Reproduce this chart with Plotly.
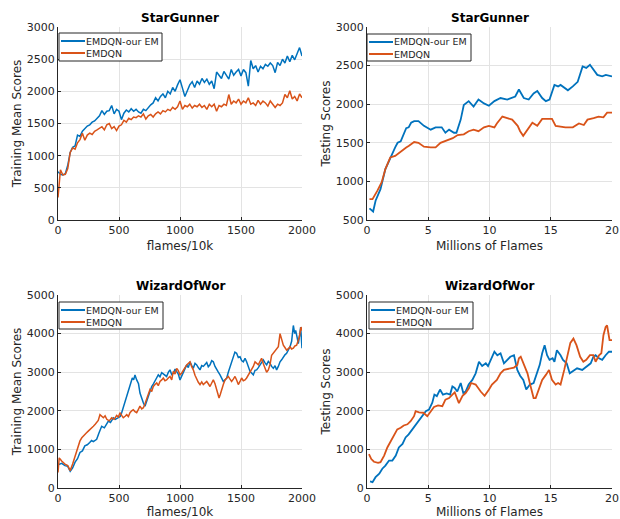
import plotly.graph_objects as go

# ---------------- data ----------------
SERIES = ["EMDQN-our EM", "EMDQN"]

# StarGunner training (flames/10k)
sg_train_x = list(range(0, 2001, 20))
sg_train_ours = [750, 710, 700, 720, 850, 1050, 1130, 1150, 1320, 1300, 1380, 1420, 1460, 1480, 1520, 1540,
                 1580, 1620, 1700, 1640, 1690, 1700, 1780, 1650, 1720, 1690, 1560, 1660, 1710, 1680, 1730,
                 1690, 1720, 1680, 1660, 1720, 1700, 1750, 1790, 1820, 1900, 1850, 1920, 1960, 1900, 2000,
                 1960, 2060, 2000, 2100, 2180, 2050, 1920, 2010, 2100, 2150, 2060, 2160, 2110, 2200, 2140,
                 2190, 2110, 2160, 2040, 2300, 2240, 2200, 2310, 2250, 2190, 2340, 2250, 2300, 2340, 2240,
                 2340, 2290, 2080, 2480, 2350, 2400, 2300, 2390, 2350, 2420, 2390, 2440, 2400, 2290, 2450,
                 2400, 2500, 2440, 2550, 2460, 2560, 2490, 2600, 2680, 2550]
sg_train_emdqn = [350, 780, 700, 710, 800, 1050, 1120, 1100, 1200, 1250, 1350, 1240, 1320, 1350, 1330, 1380,
                  1400, 1420, 1450, 1400, 1480, 1500, 1420, 1450, 1390, 1460, 1480, 1550, 1520, 1580, 1560,
                  1600, 1590, 1620, 1600, 1650, 1570, 1620, 1640, 1600, 1650, 1680, 1650, 1700, 1680, 1720,
                  1700, 1750, 1720, 1760, 1850, 1720, 1780, 1760, 1800, 1740, 1780, 1760, 1800, 1750, 1780,
                  1720, 1800, 1760, 1800, 1690, 1780, 1760, 1800, 1780, 1950, 1800, 1850, 1820, 1880, 1800,
                  1850, 1820, 1900, 1800, 1820, 1780, 1860, 1800, 1850, 1820, 1770, 1850, 1800, 1750, 1800,
                  1780, 1820, 1950, 1900, 2010, 1880, 1920, 1850, 1960, 1900]

# StarGunner testing (millions of flames)
sg_test_ours_x = [0.2, 0.5, 0.7, 1.1, 1.5, 1.9, 2.3, 2.5, 2.75, 3.2, 3.4, 3.6, 3.85, 4.2, 4.65, 5.2, 5.6, 6.1,
                  6.4, 6.7, 7.1, 7.3, 7.65, 7.9, 8.3, 8.7, 9.1, 9.55, 9.95, 10.4, 10.9, 11.45, 11.85, 12.1,
                  12.4, 12.8, 13.2, 13.6, 13.9, 14.3, 14.6, 14.9, 15.3, 15.6, 15.8, 16.1, 16.4, 16.8, 17.2,
                  17.6, 17.9, 18.2, 18.5, 18.8, 19.2, 19.5, 20.0]
sg_test_ours = [650, 610, 750, 900, 1160, 1310, 1440, 1500, 1520, 1690, 1700, 1760, 1780, 1780, 1720, 1670,
                1700, 1700, 1630, 1670, 1630, 1630, 1800, 1990, 2040, 1970, 2060, 2010, 1980, 2040, 2080,
                2060, 2090, 2100, 2190, 2080, 2060, 2140, 2170, 2080, 2040, 2060, 2250, 2230, 2250, 2210,
                2180, 2230, 2290, 2490, 2470, 2510, 2440, 2380, 2360, 2380, 2360]
sg_test_emdqn_x = [0.2, 0.45, 0.85, 1.2, 1.5, 1.9, 2.3, 2.75, 3.2, 3.4, 3.85, 4.2, 4.65, 5.2, 5.6, 6.0, 6.6,
                   7.0, 7.4, 7.9, 8.3, 8.7, 9.1, 9.55, 9.95, 10.4, 10.6, 11.05, 11.45, 11.85, 12.3, 12.5,
                   12.75, 13.1, 13.5, 13.9, 14.3, 14.7, 15.1, 15.4, 15.8, 16.2, 16.8, 17.3, 17.7, 18.0, 18.5,
                   18.9, 19.3, 19.6, 20.0]
sg_test_emdqn = [770, 770, 880, 990, 1160, 1310, 1330, 1390, 1440, 1460, 1510, 1500, 1450, 1440, 1440, 1500,
                 1540, 1560, 1600, 1610, 1650, 1670, 1650, 1700, 1720, 1700, 1750, 1840, 1820, 1800, 1720,
                 1650, 1590, 1670, 1760, 1720, 1810, 1810, 1810, 1720, 1710, 1700, 1700, 1750, 1730, 1800,
                 1820, 1840, 1830, 1890, 1890]

# WizardOfWor training
wow_train_ours_x = [0, 30, 57, 80, 100, 120, 140, 160, 180, 200, 220, 240, 260, 275, 290, 305, 317, 335, 358,
                    380, 400, 413, 430, 454, 470, 495, 510, 522, 537, 550, 565, 577, 595, 609, 620, 631, 645,
                    660, 672, 686, 700, 713, 727, 740, 755, 768, 782, 795, 808, 822, 836, 850, 870, 890, 905,
                    918, 932, 945, 960, 973, 986, 1000, 1014, 1027, 1041, 1055, 1068, 1082, 1095, 1109, 1123,
                    1137, 1150, 1164, 1178, 1191, 1205, 1219, 1232, 1246, 1260, 1273, 1287, 1300, 1314, 1328,
                    1341, 1355, 1369, 1383, 1396, 1410, 1424, 1437, 1450, 1464, 1478, 1492, 1505, 1519, 1533,
                    1546, 1560, 1574, 1587, 1601, 1615, 1628, 1642, 1656, 1670, 1683, 1697, 1710, 1724, 1738,
                    1751, 1765, 1779, 1792, 1806, 1820, 1833, 1847, 1860, 1874, 1888, 1902, 1915, 1929, 1940,
                    1948, 1960, 1970, 1980, 1989, 2000]
wow_train_ours = [600, 640, 580, 560, 430, 520, 670, 760, 920, 960, 1090, 1120, 1180, 1230, 1200, 1230, 1260,
                  1420, 1600, 1560, 1680, 1735, 1700, 1820, 1780, 1820, 1850, 1950, 2100, 2290, 2380, 2550,
                  2700, 2850, 2800, 2930, 2800, 2700, 2460, 2300, 2200, 2120, 2250, 2380, 2500, 2630, 2700,
                  2800, 2850, 2930, 2880, 2990, 2950, 2890, 3000, 3060, 2940, 2970, 3080, 3020, 2950, 2800,
                  2900, 2970, 3080, 3190, 3120, 3270, 3180, 3100, 3230, 3190, 3120, 3060, 3170, 3150, 3200,
                  3250, 3140, 3190, 3300, 3270, 3150, 3060, 3000, 2930, 2850, 2760, 2800, 2850, 3000, 3150,
                  3300, 3400, 3520, 3490, 3380, 3400, 3300, 3270, 3360, 3270, 3150, 3020, 2980, 2930, 3050,
                  3060, 3120, 3190, 3250, 3320, 3240, 3190, 3280, 3230, 3150, 3100, 3170, 3060, 3150, 3270,
                  3320, 3400, 3450, 3490, 3560, 3660, 3800, 4210, 4000, 4080, 3900, 3740, 3950, 4170, 3620]
wow_train_emdqn_x = [0, 10, 30, 57, 80, 100, 120, 140, 160, 180, 195, 208, 230, 250, 270, 290, 305, 317, 330,
                     344, 358, 372, 386, 400, 420, 440, 460, 481, 495, 508, 522, 535, 550, 563, 577, 590, 604,
                     617, 631, 645, 658, 672, 686, 700, 713, 727, 740, 754, 768, 781, 795, 809, 822, 836, 850,
                     863, 877, 890, 904, 918, 932, 945, 959, 973, 986, 1000, 1014, 1027, 1041, 1055, 1068,
                     1082, 1095, 1109, 1123, 1137, 1150, 1164, 1178, 1191, 1205, 1219, 1232, 1246, 1260, 1273,
                     1287, 1300, 1310, 1320, 1330, 1341, 1355, 1369, 1383, 1396, 1410, 1423, 1437, 1451, 1464,
                     1478, 1492, 1505, 1519, 1533, 1546, 1560, 1574, 1587, 1601, 1615, 1628, 1642, 1656, 1669,
                     1683, 1697, 1710, 1724, 1738, 1751, 1765, 1779, 1792, 1806, 1820, 1833, 1847, 1860, 1874,
                     1888, 1902, 1915, 1929, 1942, 1956, 1967, 1978, 1992, 2000]
wow_train_emdqn = [400, 780, 700, 620, 580, 450, 620, 840, 1000, 1220, 1300, 1350, 1420, 1480, 1530, 1600,
                   1650, 1690, 1750, 1900, 1860, 1820, 1870, 1780, 1740, 1820, 1780, 1880, 1840, 1950, 1880,
                   1820, 1860, 1900, 1850, 1950, 2000, 2030, 1980, 1950, 2030, 2120, 2050, 2080, 2180, 2290,
                   2400, 2550, 2500, 2630, 2680, 2720, 2650, 2760, 2800, 2850, 2780, 2800, 2850, 2890, 2800,
                   3020, 2950, 3100, 3040, 2930, 2980, 3060, 3120, 3190, 3230, 3270, 3150, 3060, 2920, 2800,
                   2740, 2680, 2750, 2680, 2720, 2760, 2700, 2630, 2720, 2800, 2700, 2550, 2400, 2330, 2420,
                   2550, 2680, 2800, 2850, 2890, 2820, 2760, 2820, 2890, 2800, 2680, 2760, 2850, 2780, 2800,
                   2850, 2930, 2980, 3060, 3150, 3270, 3230, 3190, 3280, 3360, 3220, 3100, 3000, 3060, 3200,
                   3440, 3500, 3570, 3620, 3660, 4000, 3820, 3700, 3640, 3570, 3610, 3660, 3600, 3620, 3680,
                   3700, 3800, 3910, 4170, 4080]

# WizardOfWor testing
wow_test_ours_x = [0.25, 0.45, 0.7, 1.0, 1.25, 1.5, 1.8, 2.07, 2.35, 2.6, 2.9, 3.15, 3.4, 3.7, 3.97, 4.25,
                   4.5, 4.8, 5.06, 5.33, 5.5, 5.7, 5.96, 6.2, 6.5, 6.78, 6.97, 7.16, 7.37, 7.65, 7.86, 8.05,
                   8.3, 8.6, 8.87, 9.14, 9.4, 9.7, 9.88, 10.15, 10.4, 10.64, 10.9, 11.18, 11.45, 11.7, 12.0,
                   12.27, 12.5, 12.76, 13.0, 13.3, 13.6, 13.85, 14.1, 14.3, 14.5, 14.7, 14.9, 15.15, 15.3,
                   15.5, 15.8, 16.0, 16.3, 16.55, 16.8, 17.15, 17.57, 17.97, 18.26, 18.48, 18.66, 18.94,
                   19.2, 19.48, 19.75, 20.0]
wow_test_ours = [170, 150, 280, 370, 500, 580, 710, 710, 840, 1050, 1140, 1310, 1390, 1520, 1650, 1780, 1860,
                 1990, 2030, 2210, 2420, 2380, 2550, 2420, 2450, 2420, 2630, 2590, 2500, 2720, 2460, 2500,
                 2680, 2800, 2970, 3270, 3160, 3230, 3160, 3360, 3530, 3440, 3490, 3230, 3320, 3400, 3440,
                 3060, 2910, 2800, 2550, 2680, 2720, 2970, 3190, 3490, 3700, 3440, 3320, 3360, 3270, 3570,
                 3440, 3320, 3230, 2970, 3020, 3100, 3060, 3150, 3230, 3400, 3440, 3360, 3320, 3440, 3530,
                 3530]
wow_test_emdqn_x = [0.16, 0.35, 0.57, 0.9, 1.1, 1.4, 1.66, 1.93, 2.2, 2.47, 2.75, 3.0, 3.3, 3.56, 3.84, 3.97,
                    4.25, 4.6, 4.92, 5.2, 5.47, 5.8, 6.15, 6.4, 6.7, 6.97, 7.16, 7.5, 7.8, 8.05, 8.33, 8.5,
                    8.87, 9.28, 9.6, 9.96, 10.2, 10.6, 10.9, 11.18, 11.6, 12.0, 12.27, 12.4, 12.55, 12.8, 13.1,
                    13.36, 13.6, 13.77, 14.04, 14.3, 14.6, 14.86, 15.1, 15.4, 15.6, 15.8, 16.1, 16.35, 16.6,
                    16.85, 17.1, 17.4, 17.66, 17.9, 18.2, 18.48, 18.66, 18.94, 19.13, 19.3, 19.48, 19.6, 19.8,
                    20.0]
wow_test_emdqn = [880, 750, 680, 650, 670, 840, 1050, 1220, 1390, 1520, 1560, 1620, 1650, 1730, 1860, 1990,
                  1960, 1950, 1860, 1990, 2100, 2140, 2120, 2290, 2330, 2420, 2480, 2200, 2390, 2460, 2590,
                  2720, 2680, 2500, 2390, 2550, 2680, 2800, 2970, 3060, 3100, 3120, 3190, 3360, 3400, 3190,
                  2970, 2630, 2330, 2330, 2590, 2800, 2930, 3060, 2800, 2680, 2720, 2680, 3060, 3400, 3760,
                  3870, 3700, 3400, 3270, 3320, 3440, 3440, 3270, 3440, 3490, 3960, 4170, 4210, 3830, 3830]

titles = ["StarGunner", "StarGunner", "WizardOfWor", "WizardOfWor"]
xlabels = ["flames/10k", "Millions of Flames", "flames/10k", "Millions of Flames"]
ylabels = ["Training Mean Scores", "Testing Scores", "Training Mean Scores", "Testing Scores"]

# ---------------- figure ----------------
W, H = 620, 519
BLUE = "#0072BD"
ORANGE = "#D95319"
COLORS = [BLUE, ORANGE]
FONT = "DejaVu Sans"
TXT = "#262626"

# axis pixel boxes (left, right, top, bottom)
boxes = [(58, 302, 27, 220), (367, 612, 27, 220), (58, 302, 295, 488), (367, 612, 295, 488)]
# legend boxes (left, right, top, bottom)
legboxes = [(59, 162, 33, 61), (367, 471, 34, 61), (59, 163, 302, 329), (369, 473, 302, 329)]

panels = [
    (sg_train_x, sg_train_ours, sg_train_x, sg_train_emdqn, [0, 2000], [0, 3000], 500, 500, 1.5),
    (sg_test_ours_x, sg_test_ours, sg_test_emdqn_x, sg_test_emdqn, [0, 20], [500, 3000], 5, 500, 1.8),
    (wow_train_ours_x, wow_train_ours, wow_train_emdqn_x, wow_train_emdqn, [0, 2000], [0, 5000], 500, 1000, 1.5),
    (wow_test_ours_x, wow_test_ours, wow_test_emdqn_x, wow_test_emdqn, [0, 20], [0, 5000], 5, 1000, 1.8),
]

fig = go.Figure()
layout = dict(width=W, height=H, margin=dict(l=0, r=0, t=0, b=0, autoexpand=False),
              paper_bgcolor="white", plot_bgcolor="white", showlegend=False,
              font=dict(family=FONT, size=11, color=TXT), annotations=[], shapes=[])

def px(xp):
    return xp / W

def py(yp):
    return 1 - yp / H

for i, (bx, (x1, y1, x2, y2, xr, yr, dx, dy, lw)) in enumerate(zip(boxes, panels)):
    n = "" if i == 0 else str(i + 1)
    fig.add_trace(go.Scatter(x=x1, y=y1, mode="lines", name=SERIES[0], line=dict(color=BLUE, width=lw),
                             xaxis="x" + n, yaxis="y" + n))
    fig.add_trace(go.Scatter(x=x2, y=y2, mode="lines", name=SERIES[1], line=dict(color=ORANGE, width=lw),
                             xaxis="x" + n, yaxis="y" + n))
    l, r, t, b = bx
    common = dict(showgrid=True, gridcolor="#e3e3e3", gridwidth=1, zeroline=False, automargin=False,
                  showline=True, linecolor="#262626", linewidth=1, ticks="inside", ticklen=3,
                  tickcolor="#262626", tickfont=dict(size=11, color=TXT), mirror=False)
    layout["xaxis" + n] = dict(common, domain=[px(l), px(r)], range=xr, dtick=dx, tick0=0,
                               anchor="y" + n,
                               title=dict(text=xlabels[i], font=dict(size=12, color=TXT), standoff=5))
    layout["yaxis" + n] = dict(common, domain=[py(b), py(t)], range=yr, dtick=dy, tick0=0,
                               anchor="x" + n,
                               title=dict(text=ylabels[i], font=dict(size=12, color=TXT), standoff=2))
    layout["annotations"].append(dict(text="<b>" + titles[i] + "</b>", x=px((l + r) / 2),
                                      y=py(t - 9), xref="paper", yref="paper",
                                      showarrow=False, font=dict(size=12, color="black"),
                                      xanchor="center", yanchor="middle"))
    # legend box drawn in paper space
    ll, lr, lt, lb = legboxes[i]
    layout["shapes"].append(dict(type="rect", xref="paper", yref="paper",
                                 x0=px(ll), x1=px(lr), y0=py(lb), y1=py(lt),
                                 line=dict(color="#262626", width=1), fillcolor="white", layer="above"))
    for k in range(2):
        yc = lt + 8 + k * 12
        layout["shapes"].append(dict(type="line", xref="paper", yref="paper",
                                     x0=px(ll + 2), x1=px(ll + 26), y0=py(yc), y1=py(yc),
                                     line=dict(color=COLORS[k], width=2), layer="above"))
        layout["annotations"].append(dict(text=SERIES[k], x=px(ll + 25), y=py(yc), xref="paper",
                                          yref="paper", showarrow=False, xanchor="left",
                                          yanchor="middle", font=dict(size=9.5, color=TXT)))

fig.update_layout(**layout)
fig.write_html("out.html")
